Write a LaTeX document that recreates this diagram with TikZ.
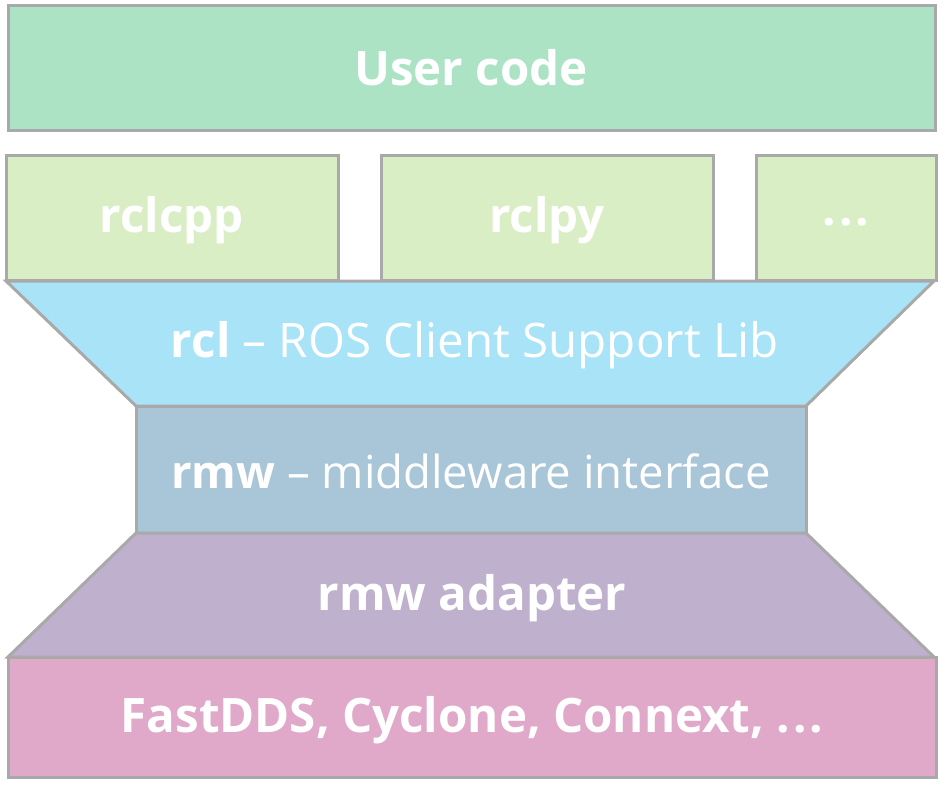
\documentclass[tikz,border=0pt]{standalone}
\usepackage{fontspec}
\setmainfont{Open Sans}
\definecolor{bordergray}{HTML}{A9A9A9}
\definecolor{usercol}{HTML}{ABE3C4}
\definecolor{clientcol}{HTML}{DAEEC5}
\definecolor{rclcol}{HTML}{A9E3F8}
\definecolor{rmwcol}{HTML}{A9C5D8}
\definecolor{adaptcol}{HTML}{BFB0CD}
\definecolor{ddscol}{HTML}{E0A9C9}
\newcommand{\mydots}{.\kern3pt.\kern3pt.}
\tikzset{
  layer/.style={draw=bordergray, line width=3pt, line join=miter},
  lbl/.style={text=white, font=\bfseries\fontsize{47.5}{50}\selectfont, inner sep=0pt},
  lbltwo/.style={text=white, font=\fontsize{47.5}{50}\selectfont, inner sep=0pt}
}
\begin{document}
\begin{tikzpicture}[x=1pt,y=-1pt]
\useasboundingbox (0,0) rectangle (946,785);
% user code
\draw[layer, fill=usercol] (8,5) rectangle (935,130);
\node[lbl] (user) at (471,68) {User code};
% client libraries
\draw[layer, fill=clientcol] (6,155) rectangle (338,280);
\draw[layer, fill=clientcol] (381,155) rectangle (713,280);
\draw[layer, fill=clientcol] (756,155) rectangle (936,280);
\node[lbl] (rclcpp) at (172,220) {rclcpp};
\node[lbl] (rclpy) at (547,220) {rclpy};
\node[lbl] (more) at (846,222) {\mydots};
% rcl trapezoid
\draw[layer, fill=rclcol] (6,281) -- (934,281) -- (806,406) -- (136,406) -- cycle;
\node[lbltwo] (rcl) at (475,345) {\textbf{rcl} – ROS Client Support Lib};
% rmw
\draw[layer, fill=rmwcol] (136,406) rectangle (806,533);
\node[lbltwo, font=\fontsize{45.5}{48}\selectfont] (rmw) at (471,471) {\textbf{rmw} – middleware interface};
% adapter trapezoid
\draw[layer, fill=adaptcol] (136,533) -- (806,533) -- (934,657) -- (8,657) -- cycle;
\node[lbl] (adapter) at (472,598) {rmw adapter};
% DDS
\draw[layer, fill=ddscol] (8,657) rectangle (936,777);
\node[lbl] (dds) at (472,720) {FastDDS, Cyclone, Connext, \mydots};
\end{tikzpicture}
\end{document}
